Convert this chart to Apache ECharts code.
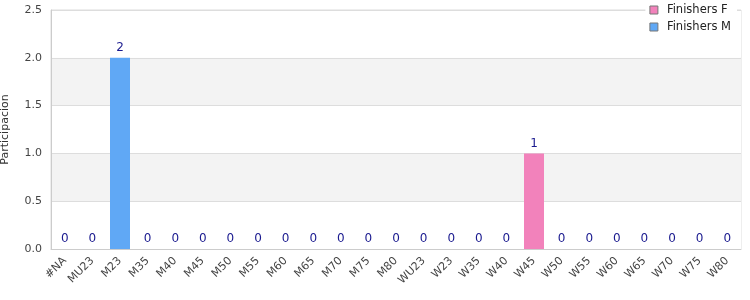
<!DOCTYPE html>
<html><head><meta charset="utf-8">
<script src="https://cdn.jsdelivr.net/npm/echarts@6/dist/echarts.min.js"></script>
<style>html,body{margin:0;padding:0;background:#fff}#c{width:750px;height:300px}</style>
</head><body><div id="c"></div>
<script>
const categories = ["#NA","MU23","M23","M35","M40","M45","M50","M55","M60","M65","M70","M75","M80","WU23","W23","W35","W40","W45","W50","W55","W60","W65","W70","W75","W80"];
const finishersF = [0,0,0,0,0,0,0,0,0,0,0,0,0,0,0,0,0,1,0,0,0,0,0,0,0];
const finishersM = [0,0,2,0,0,0,0,0,0,0,0,0,0,0,0,0,0,0,0,0,0,0,0,0,0];
const yTicks = [0, 0.5, 1.0, 1.5, 2.0, 2.5];
const seriesNames = ["Finishers F", "Finishers M"];
const FONT = "DejaVu Sans";
const chart = echarts.init(document.getElementById('c'), null, {renderer:'canvas'});
chart.setOption({
  animation:false,
  textStyle:{fontFamily:FONT},
  grid:{left:51,right:9,top:10,bottom:51,containLabel:false,outerBoundsMode:'none',show:true,borderColor:'#ddd',borderWidth:1,backgroundColor:'transparent'},
  legend:{
    orient:'vertical', right:13, top:1, itemWidth:8, itemHeight:8, itemGap:5,
    backgroundColor:'#fff', padding:[3,6,3,4],
    textStyle:{fontFamily:FONT,fontSize:11.5,color:'#222',padding:[0,0,0,4]},
    data:seriesNames.map(n=>({name:n,icon:'rect',itemStyle:{borderColor:'#777',borderWidth:1}}))
  },
  xAxis:{
    type:'category', data:categories,
    axisLine:{lineStyle:{color:'#ccc'}}, axisTick:{show:false},
    axisLabel:{rotate:45,interval:0,fontSize:11,color:'#444',fontFamily:FONT,margin:10}
  },
  yAxis:{
    type:'value', min:yTicks[0], max:yTicks[yTicks.length-1], interval:0.5,
    name:'Participacion', nameLocation:'middle', nameGap:40,
    nameTextStyle:{fontSize:11,color:'#333',fontFamily:FONT},
    axisLine:{show:true,lineStyle:{color:'#ccc'}}, axisTick:{show:false},
    axisLabel:{fontSize:11,color:'#444',fontFamily:FONT,margin:9,formatter:v=>v.toFixed(1)},
    splitLine:{lineStyle:{color:'#ddd'}},
    splitArea:{show:true,areaStyle:{color:['#fff','#f3f3f3']}}
  },
  series:[
    {name:seriesNames[0], type:'bar', stack:'t', data:finishersF, barWidth:20,
     itemStyle:{color:'#f282bb'}, label:{show:false}},
    {name:seriesNames[1], type:'bar', stack:'t', data:finishersM, barWidth:20,
     itemStyle:{color:'#60a8f5'},
     label:{show:true,position:'top',distance:4,fontSize:12,color:'#1a1a8f',fontFamily:FONT,
       formatter:p=>String(finishersF[p.dataIndex]+finishersM[p.dataIndex])}}
  ]
});
</script></body></html>
